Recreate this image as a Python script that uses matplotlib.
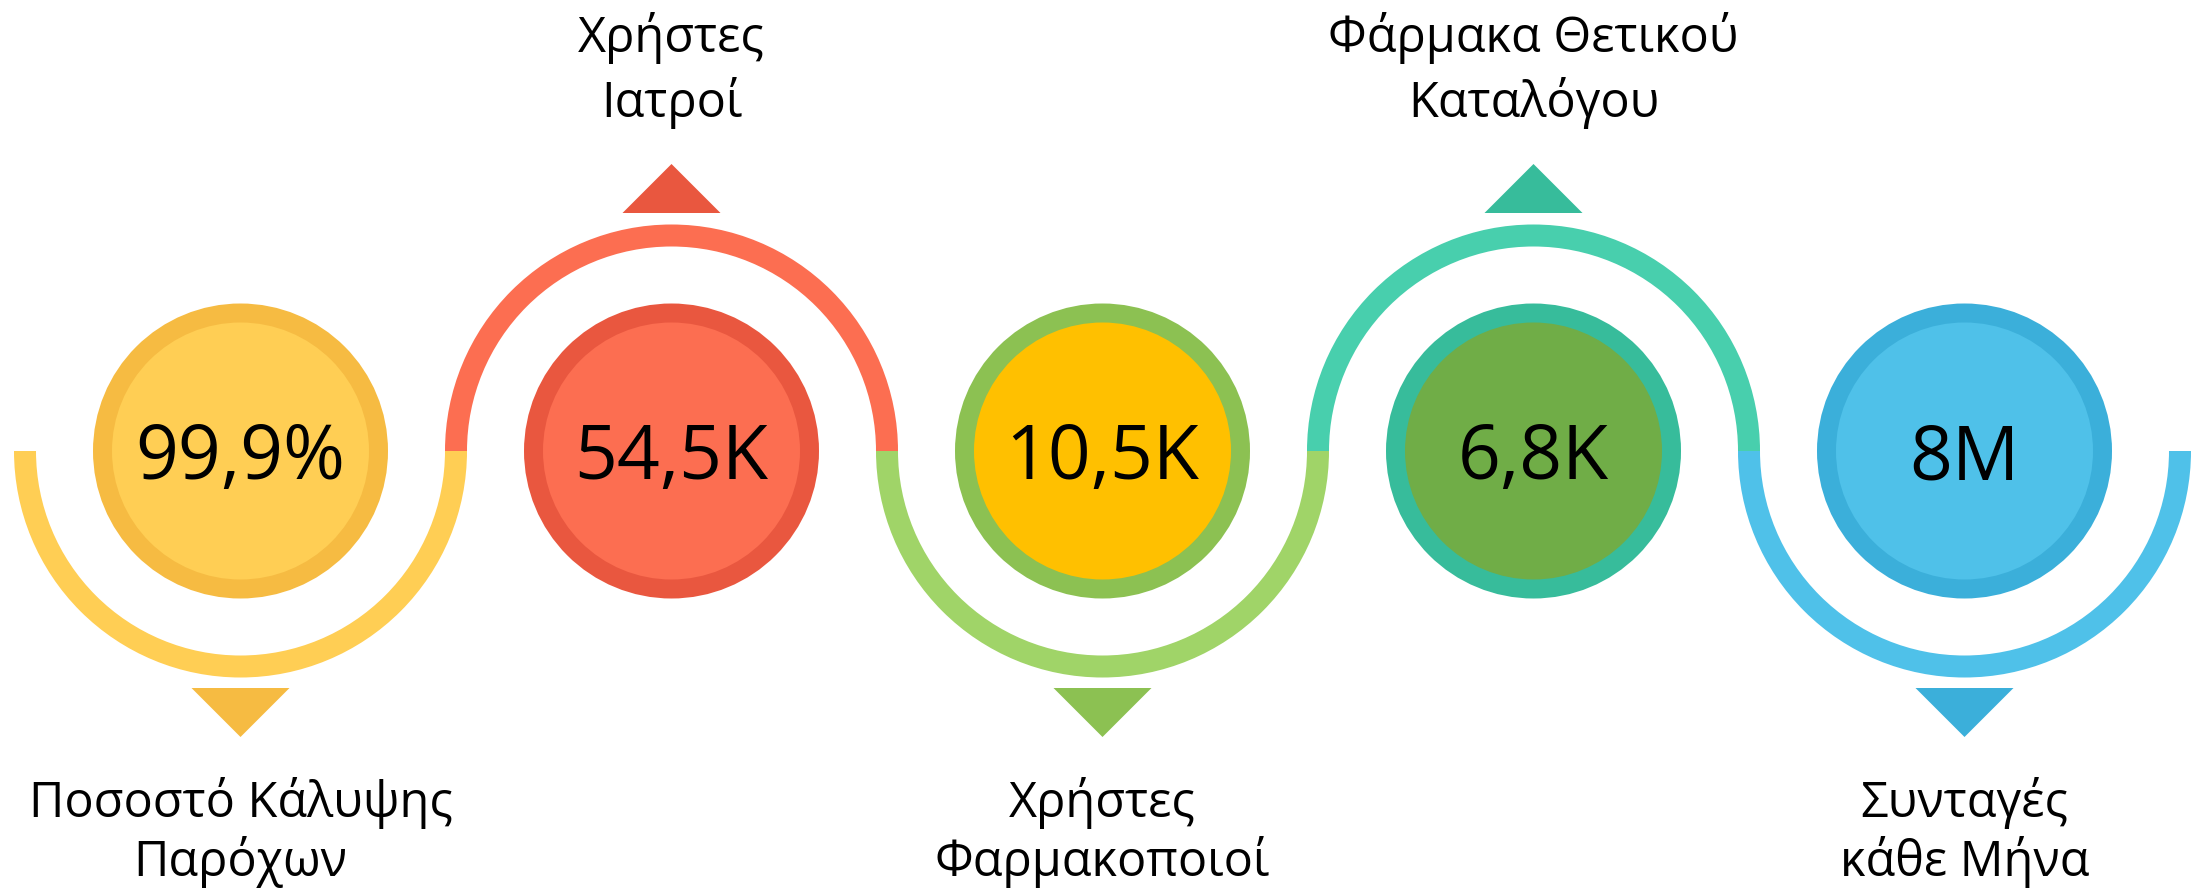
import matplotlib.pyplot as plt
from matplotlib.patches import Circle, Wedge, Polygon

# Infographic content
values = ['99,9%', '54,5K', '10,5K', '6,8K', '8M']
labels = [
    ['Ποσοστό Κάλυψης', 'Παρόχων'],
    ['Χρήστες', 'Ιατροί'],
    ['Χρήστες', 'Φαρμακοποιοί'],
    ['Φάρμακα Θετικού', 'Καταλόγου'],
    ['Συνταγές', 'κάθε Μήνα'],
]
arc_colors = ['#FFCE54', '#FC6E51', '#A0D468', '#48CFAD', '#4FC1E9']
ring_colors = ['#F6BB42', '#E9573F', '#8CC152', '#37BC9B', '#3BAFDA']
fill_colors = ['#FFCE54', '#FC6E51', '#FFC000', '#70AD47', '#4FC1E9']

plt.rcParams['font.family'] = ['Open Sans', 'DejaVu Sans']

W, H = 2201, 889
fig = plt.figure(figsize=(W / 100, H / 100), dpi=100)
ax = fig.add_axes([0, 0, 1, 1])
ax.set_xlim(0, W)
ax.set_ylim(H, 0)
ax.axis('off')

x0, step, cy = 240.5, 431, 451
for i, val in enumerate(values):
    cx = x0 + i * step
    down = (i % 2 == 0)

    # snake arc segment
    t1, t2 = (0, 180) if down else (180, 360)
    ax.add_patch(Wedge((cx, cy), 226.5, t1, t2, width=22,
                       facecolor=arc_colors[i], edgecolor='none'))

    # central disc with ring
    ax.add_patch(Circle((cx, cy), 147.5, facecolor=ring_colors[i], edgecolor='none'))
    ax.add_patch(Circle((cx, cy), 128.5, facecolor=fill_colors[i], edgecolor='none'))
    ax.text(cx, cy + 28, val, ha='center', va='baseline', fontsize=54, color='black')

    # pointer triangle
    if down:
        tri = [(cx - 49, cy + 237), (cx + 49, cy + 237), (cx, cy + 286)]
        baselines = [817, 876]
    else:
        tri = [(cx - 49, cy - 238), (cx + 49, cy - 238), (cx, cy - 287)]
        baselines = [52, 117]
    ax.add_patch(Polygon(tri, closed=True, facecolor=ring_colors[i], edgecolor='none'))

    for line, yb in zip(labels[i], baselines):
        ax.text(cx, yb, line, ha='center', va='baseline', fontsize=35, color='black')

fig.savefig('out.png', dpi=100, facecolor='white')
